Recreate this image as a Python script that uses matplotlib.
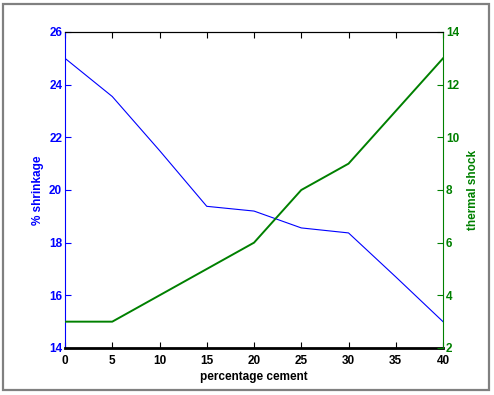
import matplotlib
matplotlib.use("Agg")
import matplotlib.pyplot as plt
from matplotlib.patches import Rectangle

cement = [0, 5, 10, 15, 20, 25, 30, 35, 40]
shrinkage = [25.0, 23.55, 21.5, 19.38, 19.2, 18.56, 18.37, 16.7, 15.0]
shock_x = [0, 5, 20, 25, 30, 40]
shock = [3, 3, 6, 8, 9, 13]

plt.rcParams['font.family'] = ['Liberation Sans', 'DejaVu Sans']
plt.rcParams['font.weight'] = 'bold'
plt.rcParams['axes.labelweight'] = 'bold'
plt.rcParams['font.size'] = 8.5

blue = '#0000ff'
green = '#008000'

fig = plt.figure(figsize=(4.94, 3.95), dpi=100)
fig.patches.append(Rectangle((0.006, 0.013), 0.984, 0.977, transform=fig.transFigure,
                             fill=False, edgecolor='#808080', linewidth=1.6))

ax = fig.add_axes([0.1316, 0.119, 0.7652, 0.8])
ax.plot(cement, shrinkage, color=blue, linewidth=0.8)
ax.set_xlim(0, 40)
ax.set_ylim(14, 26)
ax.set_xticks(range(0, 41, 5))
ax.set_yticks(range(14, 27, 2))
ax.set_xlabel('percentage cement', labelpad=3)
ax.set_ylabel('% shrinkage', color=blue, labelpad=4)
ax.tick_params(axis='y', colors=blue, direction='in', length=4, pad=2)
ax.tick_params(axis='x', direction='in', length=4, top=True, pad=5)
ax.spines['left'].set_color(blue)
ax.spines['bottom'].set_linewidth(2)
ax.spines['right'].set_visible(False)

ax2 = ax.twinx()
ax2.plot(shock_x, shock, color=green, linewidth=1.4)
ax2.set_ylim(2, 14)
ax2.set_yticks(range(2, 15, 2))
ax2.set_ylabel('thermal shock', color=green, labelpad=6)
ax2.tick_params(axis='y', colors=green, direction='in', length=4, pad=2)
ax2.spines['right'].set_color(green)
ax2.spines['left'].set_visible(False)
ax2.spines['bottom'].set_visible(False)

fig.savefig('out.png', dpi=100)
